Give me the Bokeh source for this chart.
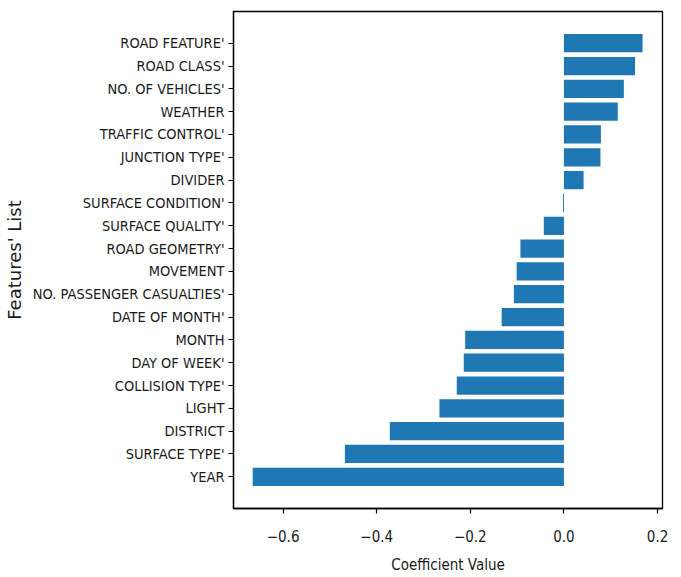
from bokeh.plotting import figure
from bokeh.models import FactorRange, Range1d, FixedTicker, CustomJSTickFormatter, ColumnDataSource
from bokeh.embed import file_html
from bokeh.resources import INLINE

features = ["ROAD FEATURE'", "ROAD CLASS'", "NO. OF VEHICLES'", "WEATHER", "TRAFFIC CONTROL'",
            "JUNCTION TYPE'", "DIVIDER", "SURFACE CONDITION'", "SURFACE QUALITY'", "ROAD GEOMETRY'",
            "MOVEMENT", "NO. PASSENGER CASUALTIES'", "DATE OF MONTH'", "MONTH", "DAY OF WEEK'",
            "COLLISION TYPE'", "LIGHT", "DISTRICT", "SURFACE TYPE'", "YEAR"]
coefficients = [0.168, 0.152, 0.128, 0.115, 0.079, 0.078, 0.042, -0.002, -0.043, -0.093,
                -0.101, -0.107, -0.133, -0.211, -0.214, -0.229, -0.266, -0.372, -0.468, -0.665]
x_ticks = [-0.6, -0.4, -0.2, 0.0, 0.2]

# bottom-to-top order for the categorical axis
order = features[::-1]
src = ColumnDataSource(dict(feature=features, coef=coefficients))

p = figure(width=681, height=577, output_backend="svg", toolbar_location=None,
           y_range=FactorRange(factors=order, range_padding=0.89, range_padding_units="absolute"),
           x_range=Range1d(-0.706, 0.2106),
           min_border_left=231, min_border_right=19, min_border_top=11, min_border_bottom=69)

p.hbar(y="feature", right="coef", left=0, height=0.8, source=src,
       fill_color="#1f77b4", line_color=None)

p.xgrid.visible = False
p.ygrid.visible = False
p.outline_line_color = "black"
p.outline_line_width = 1.3
p.background_fill_color = "white"
p.border_fill_color = "white"

tick_font = "DejaVu Sans Condensed"
text_color = "#1a1a1a"

p.xaxis.ticker = FixedTicker(ticks=x_ticks)
p.xaxis.formatter = CustomJSTickFormatter(code="return tick.toFixed(1).replace('-', '\u2212');")
p.xaxis.axis_label = "Coefficient Value"
p.xaxis.axis_label_text_font = tick_font
p.xaxis.axis_label_text_font_size = "15px"
p.xaxis.axis_label_text_font_style = "normal"
p.xaxis.axis_label_standoff = 11
p.xaxis.major_label_text_font = tick_font
p.xaxis.major_label_text_font_size = "15px"
p.xaxis.major_label_standoff = 16

p.yaxis.axis_label = "Features' List"
p.yaxis.axis_label_text_font = "DejaVu Sans"
p.yaxis.axis_label_text_font_size = "18px"
p.yaxis.axis_label_text_font_style = "normal"
p.yaxis.axis_label_standoff = 5
p.yaxis.major_label_text_font = tick_font
p.yaxis.major_label_text_font_size = "14.5px"
p.yaxis.major_label_standoff = 4

for ax in (p.xaxis, p.yaxis):
    ax.axis_line_color = "black"
    ax.axis_line_width = 1.3
    ax.major_tick_line_color = "black"
    ax.major_tick_line_width = 1.2
    ax.major_tick_out = 5
    ax.major_tick_in = 0
    ax.minor_tick_line_color = None
    ax.major_label_text_color = text_color
    ax.axis_label_text_color = text_color

open("out.html", "w").write(file_html(p, INLINE))
